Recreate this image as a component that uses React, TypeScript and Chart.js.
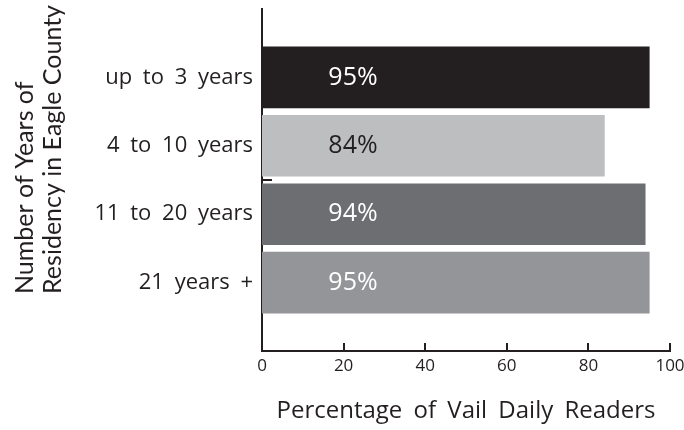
import React, { useEffect, useRef } from "react";
import { Chart, registerables } from "chart.js";

Chart.register(...registerables);

const categories = ["up to 3 years", "4 to 10 years", "11 to 20 years", "21 years +"];
const values = [95, 84, 94, 95];
const barColors = ["#231f20", "#bcbec0", "#6d6e71", "#939598"];
const labelColors = ["#ffffff", "#231f20", "#ffffff", "#ffffff"];
const xTicks = [0, 20, 40, 60, 80, 100];
const yTitle = ["Number of Years of", "Residency in Eagle County"];
const xTitle = "Percentage of Vail Daily Readers";

const FONT = "'Open Sans', Lato, sans-serif";
const TITLE_FONT = "Lato, 'Open Sans', sans-serif";
const INK = "#231f20";

const decorPlugin = {
  id: "decor",
  beforeDraw(chart: any) {
    (chart.ctx as any).wordSpacing = "5px";
  },
  afterDatasetsDraw(chart: any) {
    const ctx = chart.ctx;
    const xs = chart.scales.x;
    const ys = chart.scales.y;
    const area = chart.chartArea;
    ctx.save();
    ctx.strokeStyle = INK;
    ctx.lineWidth = 2;
    xTicks.forEach((t) => {
      const px = Math.round(xs.getPixelForValue(t));
      ctx.beginPath();
      ctx.moveTo(px, area.bottom);
      ctx.lineTo(px, area.bottom - 8);
      ctx.stroke();
    });
    // small stray tick on the y axis between 2nd and 3rd category
    const sy = Math.round(ys.getPixelForValue(1.5));
    ctx.beginPath();
    ctx.moveTo(area.left, sy);
    ctx.lineTo(area.left + 10, sy);
    ctx.stroke();
    const meta = chart.getDatasetMeta(0);
    ctx.font = `25px ${FONT}`;
    ctx.textAlign = "center";
    ctx.textBaseline = "middle";
    meta.data.forEach((bar: any, i: number) => {
      ctx.fillStyle = labelColors[i];
      ctx.fillText(`${values[i]}%`, bar.base + 91, bar.y);
    });
    // y axis title (two lines, rotated, start-aligned)
    (ctx as any).wordSpacing = "0px";
    ctx.fillStyle = INK;
    ctx.font = `25px ${TITLE_FONT}`;
    ctx.textAlign = "left";
    ctx.textBaseline = "alphabetic";
    const startY = area.bottom - 57;
    yTitle.forEach((line, i) => {
      ctx.save();
      ctx.translate(33 + i * 28, startY);
      ctx.rotate(-Math.PI / 2);
      ctx.fillText(line, 0, 0);
      ctx.restore();
    });
    ctx.restore();
  },
};

export default function App() {
  const ref = useRef<HTMLCanvasElement>(null);
  useEffect(() => {
    const chart = new Chart(ref.current as HTMLCanvasElement, {
      type: "bar",
      data: {
        datasets: [
          {
            data: values.map((v, i) => ({ x: v, y: i })),
            backgroundColor: barColors,
            borderWidth: 0,
            barPercentage: 0.9,
            categoryPercentage: 1,
          },
        ],
      },
      options: {
        indexAxis: "y",
        responsive: false,
        animation: false,
        layout: { padding: { top: 9, right: 14, left: 0, bottom: 0 } },
        plugins: { legend: { display: false }, tooltip: { enabled: false } },
        scales: {
          x: {
            type: "linear",
            min: 0,
            max: 100,
            afterBuildTicks: (s: any) => {
              s.ticks = xTicks.map((v) => ({ value: v }));
            },
            afterFit: (s: any) => {
              s.height = 79;
              s.paddingLeft = 0;
              s.paddingRight = 0;
            },
            grid: { display: false, drawTicks: false },
            border: { display: true, color: INK, width: 2 },
            ticks: { color: INK, font: { family: FONT, size: 17 }, padding: 5 },
            title: {
              display: true,
              text: xTitle,
              color: INK,
              font: { family: FONT, size: 24 },
              padding: { top: 0, bottom: 4 },
            },
          },
          y: {
            type: "linear",
            reverse: true,
            offset: false,
            min: -1,
            max: 4,
            afterBuildTicks: (s: any) => {
              s.ticks = categories.map((_, i) => ({ value: i }));
            },
            afterFit: (s: any) => {
              s.width = 262;
              s.paddingTop = 0;
              s.paddingBottom = 0;
            },
            grid: { display: false, drawTicks: false },
            border: { display: true, color: INK, width: 2 },
            ticks: {
              color: INK,
              font: { family: FONT, size: 22 },
              padding: 9,
              callback: (v: any) => categories[v] ?? "",
            },
            title: { display: false },
          },
        },
      },
      plugins: [decorPlugin],
    } as any);
    return () => chart.destroy();
  }, []);
  return (
    <div style={{ position: "fixed", left: 0, top: 0, width: 684, height: 430, background: "#fff" }}>
      <canvas ref={ref} width={684} height={430} />
    </div>
  );
}
